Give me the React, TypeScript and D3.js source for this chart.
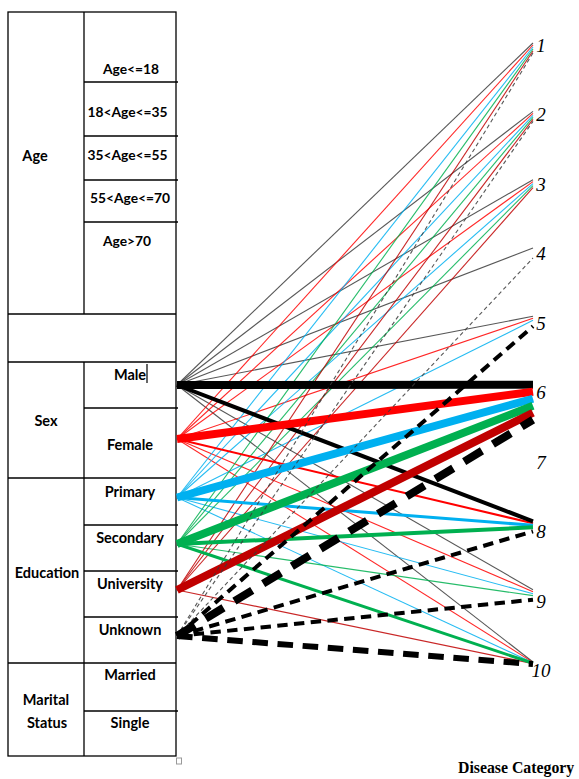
import React from "react";
import * as d3 from "d3";

// ---------- data ----------
const sources = ["Male", "Female", "Primary", "Secondary", "University", "Unknown"];
const diseaseCategories = ["1", "2", "3", "4", "5", "6", "7", "8", "9", "10"];

// links: target disease category and strength level of the association
const maleTargets = ["1", "2", "3", "4", "5", "6", "8", "9", "10"];
const maleWeights = [1, 1, 1, 1, 1, 5, 4, 1, 1];
const femaleTargets = ["1", "2", "3", "5", "6", "8", "9", "10"];
const femaleWeights = [1, 1, 1, 1, 5, 2, 1, 1];
const primaryTargets = ["1", "2", "3", "5", "6", "8", "9", "10"];
const primaryWeights = [1, 1, 1, 1, 5, 3, 1, 1];
const secondaryTargets = ["1", "2", "3", "6", "8", "9", "10"];
const secondaryWeights = [1, 1, 1, 5, 4, 1, 3];
const universityTargets = ["1", "2", "3", "6", "10"];
const universityWeights = [1, 1, 1, 5, 1];
const unknownTargets = ["1", "2", "4", "5", "6", "8", "9", "10"];
const unknownWeights = [1, 1, 1, 4, 5, 4, 4, 4.5];

const ageGroups = ["Age<=18", "18<Age<=35", "35<Age<=55", "55<Age<=70", "Age>70"];
const sexGroups = ["Male", "Female"];
const educationGroups = ["Primary", "Secondary", "University", "Unknown"];
const maritalGroups = ["Married", "Single"];

// ---------- layout / style ----------
const W = 579;
const H = 779;
const tblLeft = 8;
const tblMid = 84;
const tblRight = 176;
const tblTop = 12;
const tblBottom = 756;
const srcX = 177;
const tgtX = 533;

// row boundaries of the table (right column), plus text baselines
const ageRowBounds = [12, 82, 136, 180, 222, 314];
const ageTextY = [74, 117, 160, 203, 246];
const ageTextX = [131, 127.5, 127.5, 130, 127];
const blankRow = [314, 362];
const sexRowBounds = [362, 408, 478];
const sexTextY = [380, 450];
const eduRowBounds = [478, 525, 571, 617, 663];
const eduTextY = [497, 543, 589, 635];
const marRowBounds = [663, 711, 756];
const marTextY = [680, 728];

const sourceColors: Record<string, string> = {
  Male: "#000000",
  Female: "#ff0000",
  Primary: "#00b0f0",
  Secondary: "#00b050",
  University: "#c00000",
  Unknown: "#000000",
};

const tableFont = "Lato, 'Open Sans', sans-serif";

export default function App() {
  const linkSets: [string, string[], number[]][] = [
    ["Male", maleTargets, maleWeights],
    ["Female", femaleTargets, femaleWeights],
    ["Primary", primaryTargets, primaryWeights],
    ["Secondary", secondaryTargets, secondaryWeights],
    ["University", universityTargets, universityWeights],
    ["Unknown", unknownTargets, unknownWeights],
  ];

  const yTarget = d3.scalePoint<string>().domain(diseaseCategories).range([48, 663]);
  const yLabel = d3.scalePoint<string>().domain(diseaseCategories).range([52, 677]);
  const width = d3.scaleLinear().domain([1, 4, 5]).range([1.1, 4, 8]);

  // source y: centre of each table row, nudged up slightly
  const rowCenters: Record<string, number> = {};
  sexGroups.forEach((s, i) => (rowCenters[s] = (sexRowBounds[i] + sexRowBounds[i + 1]) / 2 - 4));
  educationGroups.forEach((s, i) => (rowCenters[s] = (eduRowBounds[i] + eduRowBounds[i + 1]) / 2 - 4));
  rowCenters["Male"] = 385;

  const fan = (t: string, i: number) => {
    if (t === "6") return (i - 0.7) * 7;
    if (t === "10") return (i - 2.5) * 0.4;
    return (i - 2.5) * 2;
  };

  type L = { src: string; tgt: string; w: number; i: number; dashed: boolean };
  const links: L[] = [];
  linkSets.forEach(([src, tg, wt]) => {
    const i = sources.indexOf(src);
    tg.forEach((t, k) => links.push({ src, tgt: t, w: wt[k], i, dashed: src === "Unknown" }));
  });
  links.sort((a, b) => {
    if (a.dashed !== b.dashed && (a.w > 1 || b.w > 1)) return a.dashed ? 1 : -1;
    return a.w - b.w;
  });

  const line = d3.line<[number, number]>();

  const hLines: JSX.Element[] = [];
  const rightRows = [...ageRowBounds.slice(1, -1), ...sexRowBounds.slice(1, -1), ...eduRowBounds.slice(1, -1), ...marRowBounds.slice(1, -1)];
  rightRows.forEach((y, k) =>
    hLines.push(<line key={"r" + k} x1={tblMid} x2={tblRight + 2} y1={y} y2={y} />)
  );
  [blankRow[0], blankRow[1], sexRowBounds[2], eduRowBounds[4]].forEach((y, k) =>
    hLines.push(<line key={"f" + k} x1={tblLeft} x2={tblRight} y1={y} y2={y} />)
  );

  const cellText = (txt: string, x: number, y: number, key: string, fs?: number) => (
    <text key={key} x={x} y={y} textAnchor="middle" fontSize={fs}>
      {txt}
    </text>
  );

  return (
    <svg
      width={W}
      height={H}
      style={{ position: "absolute", left: 0, top: 0, background: "#fff" }}
    >
      <rect x={0} y={0} width={W} height={H} fill="#fff" />
      {/* table */}
      <g stroke="#000" strokeWidth={1.3} fill="none">
        <rect x={tblLeft} y={tblTop} width={tblRight - tblLeft} height={tblBottom - tblTop} />
        <line x1={tblMid} x2={tblMid} y1={tblTop} y2={ageRowBounds[5]} />
        <line x1={tblMid} x2={tblMid} y1={blankRow[1]} y2={tblBottom} />
        {hLines}
      </g>
      <rect x={176.5} y={758} width={5} height={6} fill="none" stroke="#999" strokeWidth={1} />
      <g fontFamily={tableFont} fontWeight={700} fontSize={14.5} fill="#000">
        {ageGroups.map((g, i) => cellText(g, ageTextX[i], ageTextY[i], "a" + i, 13.8))}
        {sexGroups.map((g, i) => cellText(g, 130, sexTextY[i], "s" + i))}
        {educationGroups.map((g, i) => cellText(g, 130, eduTextY[i], "e" + i))}
        {maritalGroups.map((g, i) => cellText(g, 130, marTextY[i], "m" + i))}
        {cellText("Age", 35, 161, "ga")}
        {cellText("Sex", 46, 426, "gs")}
        {cellText("Education", 47, 578, "ge")}
        {cellText("Marital", 46, 705, "gm1")}
        {cellText("Status", 47, 728, "gm2")}
      </g>
      {/* text cursor after Male */}
      <line x1={147} x2={147} y1={364} y2={383} stroke="#000" strokeWidth={1.2} />

      {/* links */}
      <g fill="none">
        {links.map((l, k) => {
          const sw = width(l.w);
          const y0 = rowCenters[l.src];
          const y1 = (yTarget(l.tgt) as number) + fan(l.tgt, l.i);
          const col = l.w <= 1 && (l.src === "Male" || l.src === "Unknown") ? "#3a3a3a" : sourceColors[l.src];
          const dash = l.dashed ? `${Math.max(4, sw * 2.6)},${Math.max(3, sw * 1.6)}` : undefined;
          return (
            <path
              key={k}
              d={line([[srcX, y0], [tgtX, y1]]) as string}
              stroke={col}
              strokeWidth={sw}
              strokeDasharray={dash}
              opacity={l.w <= 1 ? 0.85 : 1}
            />
          );
        })}
      </g>

      {/* disease category labels */}
      <g fontFamily="'Liberation Serif', 'DejaVu Serif', serif" fontStyle="italic" fontSize={19} fill="#000">
        {diseaseCategories.map((c) => (
          <text key={c} x={541} y={yLabel(c) as number} textAnchor="middle">
            {c}
          </text>
        ))}
      </g>
      <text
        x={458}
        y={773}
        fontFamily="'Liberation Serif', 'DejaVu Serif', serif"
        fontWeight={700}
        fontSize={15.8}
        fill="#000"
      >
        Disease Category
      </text>
    </svg>
  );
}
